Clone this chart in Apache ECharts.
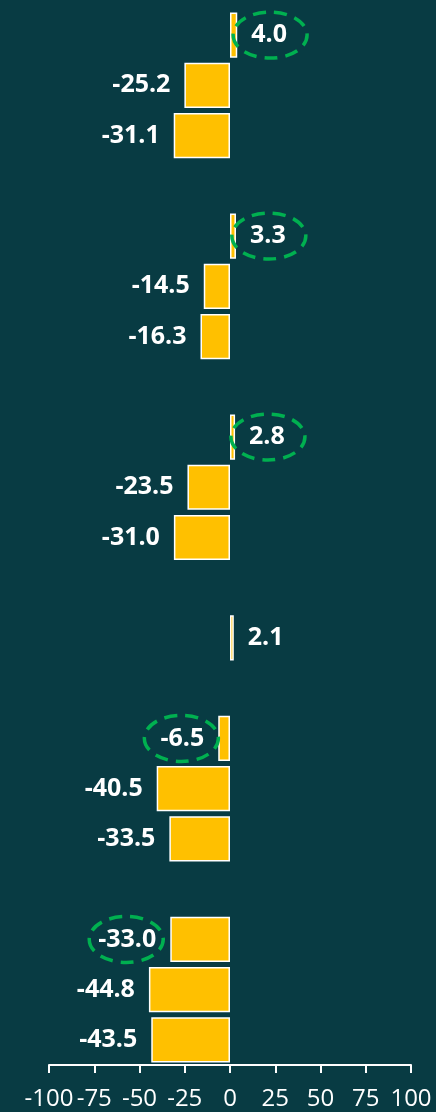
<!DOCTYPE html>
<html>
<head>
<meta charset="utf-8">
<script src="https://cdn.jsdelivr.net/npm/echarts@6/dist/echarts.min.js"></script>
<style>
html,body{margin:0;padding:0;background:#083b43;}
#c{width:436px;height:1112px;}
</style>
</head>
<body>
<div id="c"></div>
<script>
// Slots (top to bottom); '' = spacer slot between groups
var categories = ['a1','a2','a3','', 'b1','b2','b3','', 'c1','c2','c3','', 'd1','', 'e1','e2','e3','', 'f1','f2','f3'];
var values = [4.0, -25.2, -31.1, null, 3.3, -14.5, -16.3, null, 2.8, -23.5, -31.0, null, 2.1, null, -6.5, -40.5, -33.5, null, -33.0, -44.8, -43.5];
var circled = [0, 4, 8, 14, 18]; // slot indices whose labels are circled
var xTicks = [-100, -75, -50, -25, 0, 25, 50, 75, 100];

var LABEL_FONT_SIZE = 25, LABEL_FAMILY = 'Open Sans', LABEL_DIST = 14;
var measureCtx = document.createElement('canvas').getContext('2d');
function textWidth(t){ measureCtx.font = 'bold ' + LABEL_FONT_SIZE + 'px "' + LABEL_FAMILY + '"'; return measureCtx.measureText(t).width; }

var barData = values.map(function(v){
  if (v === null) return '-';
  return { value: v, label: { position: v >= 0 ? 'right' : 'left' } };
});
var ellipseData = circled.map(function(i){ return [values[i], categories[i], i]; });

var chart = echarts.init(document.getElementById('c'), null, {renderer:'canvas'});
chart.setOption({
  backgroundColor: '#083b43',
  animation: false,
  grid: { left: 49, right: 25, top: 10, bottom: 47, containLabel: false },
  xAxis: {
    type: 'value', min: -100, max: 100, interval: 25,
    splitLine: { show: false },
    axisLine: { show: true, lineStyle: { color: '#ffffff', width: 2 } },
    axisTick: { show: true, length: 8, lineStyle: { color: '#ffffff', width: 2 } },
    axisLabel: { color: '#ffffff', fontSize: 24, fontFamily: LABEL_FAMILY, margin: 22,
      formatter: function(v){ return xTicks.indexOf(v) >= 0 ? String(v) : ''; } }
  },
  yAxis: {
    type: 'category', data: categories, inverse: true,
    axisLine: { show: false }, axisTick: { show: false }, axisLabel: { show: false }, splitLine: { show: false }
  },
  series: [
    {
      type: 'bar', data: barData, barCategoryGap: '10%',
      itemStyle: { color: '#ffc000', borderColor: '#ffffff', borderWidth: 1.5 },
      label: { show: true, color: '#ffffff', fontSize: LABEL_FONT_SIZE, fontWeight: 'bold', fontFamily: LABEL_FAMILY,
        distance: LABEL_DIST, formatter: function(p){ return p.value.toFixed(1); } }
    },
    {
      type: 'custom', data: ellipseData, z: 5, silent: true,
      renderItem: function(params, api){
        var v = api.value(0);
        var pt = api.coord([v, api.value(2)]);
        var w = textWidth(v.toFixed(1));
        var sign = v >= 0 ? 1 : -1;
        var cx = pt[0] + sign * (LABEL_DIST + w / 2) + sign * 1;
        var cy = pt[1];
        var rx = 37, ry = 23;
        var d = 'M' + (cx - rx) + ' ' + cy +
          ' A' + rx + ' ' + ry + ' 0 1 0 ' + (cx + rx) + ' ' + cy +
          ' A' + rx + ' ' + ry + ' 0 1 0 ' + (cx - rx) + ' ' + cy + ' Z';
        return { type: 'path', shape: { pathData: d },
          style: { fill: 'none', stroke: '#00b050', lineWidth: 3.5, lineDash: [13, 8] } };
      }
    }
  ]
});
</script>
</body>
</html>
